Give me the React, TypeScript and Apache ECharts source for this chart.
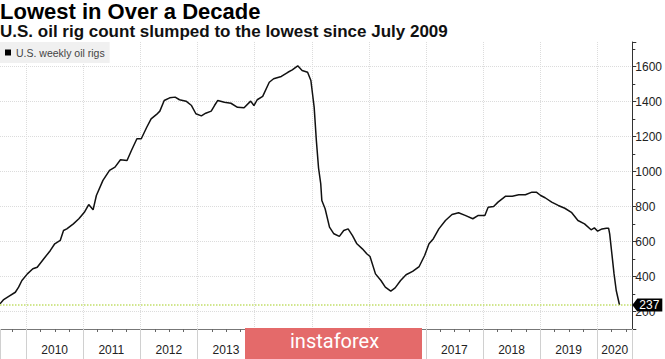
import React, { useEffect, useRef } from 'react';
import * as echarts from 'echarts';

// Weekly U.S. oil rig count
const dates: string[] = [
  '2009-07-17','2009-08-07','2009-09-11','2009-10-23','2009-11-13','2009-12-04',
  '2010-01-08','2010-02-12','2010-03-12','2010-04-23','2010-06-04','2010-07-02','2010-08-06','2010-08-27','2010-09-17','2010-10-29','2010-12-03',
  '2011-01-07','2011-02-04','2011-03-04','2011-03-25','2011-05-06','2011-06-17','2011-07-22','2011-08-26','2011-10-07','2011-11-04','2011-12-09',
  '2012-01-06','2012-02-10','2012-03-09','2012-04-13','2012-05-04','2012-06-01','2012-07-06','2012-08-10','2012-09-07','2012-10-19','2012-11-23','2012-12-21',
  '2013-01-25','2013-02-22','2013-03-29','2013-04-19','2013-05-10','2013-06-21','2013-08-02','2013-09-13','2013-10-25','2013-12-06','2013-12-27',
  '2014-01-17','2014-02-21','2014-04-04','2014-05-02','2014-06-20','2014-08-01','2014-08-29','2014-10-03','2014-10-31','2014-12-05','2014-12-26',
  '2015-01-16','2015-01-30','2015-02-13','2015-02-27','2015-03-06','2015-03-27','2015-04-24','2015-05-22','2015-06-26','2015-07-24','2015-08-21','2015-09-18','2015-10-16','2015-11-20','2015-12-18',
  '2016-01-08','2016-02-12','2016-03-18','2016-04-15','2016-05-20','2016-06-17','2016-07-22','2016-08-26','2016-10-07','2016-11-18','2016-12-23',
  '2017-01-20','2017-02-17','2017-03-24','2017-05-05','2017-06-16','2017-07-28','2017-09-08','2017-10-27','2017-12-01',
  '2018-01-12','2018-02-02','2018-03-09','2018-04-06','2018-05-25','2018-07-06','2018-08-17','2018-09-28','2018-11-09','2018-12-07',
  '2019-01-04','2019-02-01','2019-03-15','2019-04-26','2019-06-07','2019-07-19','2019-08-30','2019-10-11','2019-11-22','2019-12-13',
  '2020-01-03','2020-01-31','2020-02-28','2020-03-13','2020-03-20','2020-04-03','2020-04-17','2020-05-01','2020-05-22',
];
const rigCounts: number[] = [
  244, 266, 286, 310, 339, 377,
  415, 444, 453, 501, 549, 587, 606, 663, 672, 701, 730,
  767, 811, 781, 863, 949, 1006, 1025, 1067, 1063, 1120, 1187,
  1187, 1253, 1301, 1326, 1345, 1406, 1421, 1425, 1410, 1402, 1377, 1330,
  1318, 1333, 1345, 1377, 1406, 1396, 1390, 1367, 1364, 1402, 1377,
  1410, 1429, 1510, 1530, 1543, 1567, 1581, 1604, 1577, 1567, 1520,
  1367, 1177, 1020, 930, 834, 787, 682, 644, 629, 663, 672, 634, 587, 558, 530,
  514, 415, 377, 339, 316, 335, 377, 410, 429, 457, 520,
  587, 616, 672, 720, 754, 764, 749, 730, 749,
  749, 796, 800, 825, 859, 859, 867, 867, 882, 882,
  863, 850, 825, 806, 790, 767, 720, 701, 667, 678,
  659, 672, 676, 676, 644, 530, 415, 320, 237,
];
const seriesName = 'U.S. weekly oil rigs';
const latestValue = 237;
const xStart = '2009-07-17';
const xEnd = '2020-08-12';
const yMin = 100;
const yMax = 1740;
// year labels hidden behind the watermark in the reference
const hiddenYearLabels: number[] = [2014, 2015, 2016];

const titleText = 'Lowest in Over a Decade';
const subtitleText = 'U.S. oil rig count slumped to the lowest since July 2009';
const watermarkText = 'instaforex';

const FONT = '"Liberation Sans", Arial, sans-serif';

function toYear(s: string): number {
  const [y, m, d] = s.split('-').map(Number);
  const t = Date.UTC(y, m - 1, d);
  const a = Date.UTC(y, 0, 1);
  const b = Date.UTC(y + 1, 0, 1);
  return y + (t - a) / (b - a);
}

export default function App() {
  const ref = useRef<HTMLDivElement>(null);
  useEffect(() => {
    document.body.style.margin = '0';
    if (!ref.current) return;
    const chart = echarts.init(ref.current, null, { renderer: 'svg' });
    const xMin = toYear(xStart);
    const xMax = toYear(xEnd);
    const data = dates.map((d, i) => [toYear(d), rigCounts[i]]);
    chart.setOption({
      animation: false,
      backgroundColor: '#fff',
      textStyle: { fontFamily: FONT },
      title: {
        text: titleText,
        subtext: subtitleText,
        left: 0,
        top: 0,
        padding: 0,
        itemGap: 1,
        textStyle: { fontSize: 22, fontWeight: 'bold', color: '#000', fontFamily: FONT },
        subtextStyle: { fontSize: 17, fontWeight: 'bold', color: '#111', fontFamily: FONT },
      },
      legend: {
        left: 0,
        top: 42,
        data: [seriesName],
        icon: 'rect',
        itemWidth: 6,
        itemHeight: 6,
        backgroundColor: '#f0f0f0',
        padding: [5, 5, 5, 5],
        selectedMode: false,
        textStyle: { fontSize: 10.5, color: '#444', fontFamily: FONT },
      },
      grid: { left: 0, right: 31, top: 42, bottom: 30, containLabel: false },
      xAxis: {
        type: 'value',
        min: xMin,
        max: xMax,
        splitNumber: 11,
        axisLine: { show: true, lineStyle: { color: '#777', width: 1 } },
        axisTick: { show: true, length: 30, lineStyle: { color: '#d0d0d0' } },
        minorTick: { show: true, splitNumber: 4, length: 3, lineStyle: { color: '#666' } },
        splitLine: {
          show: true,
          showMinLine: false,
          showMaxLine: false,
          lineStyle: { color: '#dcdcdc', type: 'dotted' },
        },
        axisLabel: {
          showMinLabel: false,
          showMaxLabel: false,
          align: 'left',
          margin: 15,
          formatter: (v: number) => {
            const y = Math.round(v);
            if (hiddenYearLabels.includes(y)) return '';
            return y === 2020 ? `{last|${y}}` : `{yr|${y}}`;
          },
          rich: {
            yr: { padding: [0, 0, 0, 15], fontSize: 12, color: '#222', fontFamily: FONT },
            last: { padding: [0, 0, 0, 4], fontSize: 12, color: '#222', fontFamily: FONT },
          },
        },
      },
      yAxis: {
        type: 'value',
        position: 'right',
        min: yMin,
        max: yMax,
        splitNumber: 8,
        axisLine: { show: true, lineStyle: { color: '#333' } },
        axisTick: { show: true, length: 4, lineStyle: { color: '#333' } },
        minorTick: { show: true, splitNumber: 2, length: 3, lineStyle: { color: '#333' } },
        splitLine: {
          show: true,
          showMinLine: false,
          showMaxLine: false,
          lineStyle: { color: '#dcdcdc', type: 'dotted' },
        },
        axisLabel: {
          margin: 3,
          fontSize: 12,
          color: '#222',
          showMinLabel: false,
          showMaxLabel: false,
          formatter: (v: number) => String(Math.round(v)),
        },
      },
      series: [
        {
          name: seriesName,
          type: 'line',
          data,
          showSymbol: false,
          clip: false,
          lineStyle: { color: '#111', width: 1.5 },
          itemStyle: { color: '#000' },
          markLine: {
            silent: true,
            symbol: ['none', 'none'],
            label: { show: false },
            lineStyle: { color: '#c2de6a', type: 'dotted', width: 1.5 },
            data: [{ yAxis: latestValue }],
          },
          markPoint: {
            silent: true,
            symbol: 'path://M0,6L6,0L36,0L36,12L6,12Z',
            symbolSize: [30, 13],
            symbolOffset: [15, 0],
            symbolKeepAspect: false,
            itemStyle: { color: '#000' },
            label: {
              show: true,
              position: 'inside',
              formatter: String(latestValue),
              color: '#fff',
              fontSize: 12,
              offset: [2, 0],
              fontFamily: FONT,
            },
            data: [{ coord: [xMax, latestValue] }],
          },
        },
      ],
      graphic: [
        {
          type: 'rect',
          left: 245,
          top: 328,
          z: 100,
          shape: { width: 177, height: 31 },
          style: { fill: '#e46a6a' },
        },
        {
          type: 'text',
          left: 290,
          top: 331,
          z: 101,
          style: {
            text: watermarkText,
            fill: '#fff',
            fontSize: 20,
            fontFamily: 'Roboto, sans-serif',
          },
        },
      ],
    });
    return () => chart.dispose();
  }, []);
  return <div ref={ref} style={{ width: 665, height: 359 }} />;
}
